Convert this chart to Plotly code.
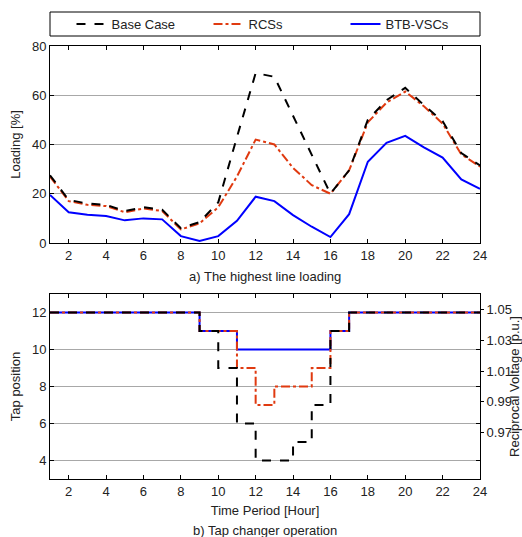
import plotly.graph_objects as go

hours = list(range(1, 25))

load_base = [27.5, 17.5, 16, 15.5, 13, 14.5, 13.5, 6, 8.5, 16.5, 43, 69, 67.5, 51.5, 35.5, 20,
             29.5, 50, 58, 63, 56, 49.5, 36.5, 31.5]
load_rcs = [27, 17, 15.5, 15, 12.5, 14, 13, 5.5, 8, 14.5, 27, 42, 40, 30.5, 23.5, 20,
            29.5, 49, 57, 61.5, 55.5, 48.5, 36, 31]
load_btb = [19.5, 12.5, 11.5, 11, 9.2, 10, 9.6, 2.8, 0.8, 2.8, 9, 18.8, 17, 11.3, 6.6, 2.4,
            11.7, 33, 40.7, 43.5, 38.8, 34.7, 25.8, 22]

tap_base = [12, 12, 12, 12, 12, 12, 12, 12, 11, 9, 6, 4, 4, 5, 7, 11, 12, 12, 12, 12, 12, 12, 12, 12]
tap_rcs = [12, 12, 12, 12, 12, 12, 12, 12, 11, 11, 9, 7, 8, 8, 9, 11, 12, 12, 12, 12, 12, 12, 12, 12]
tap_btb = [12, 12, 12, 12, 12, 12, 12, 12, 11, 11, 10, 10, 10, 10, 10, 11, 12, 12, 12, 12, 12, 12, 12, 12]

volt_ticks = [0.97, 0.99, 1.01, 1.03, 1.05]
volt_labels = ["0.97", "0.99", "1.01", "1.03", "1.05"]

names = ["Base Case", "RCSs", "BTB-VSCs"]
colors = {"Base Case": "#000000", "RCSs": "#e03a10", "BTB-VSCs": "#0000ff"}
dashes = {"Base Case": "dash", "RCSs": "dashdot", "BTB-VSCs": "solid"}
rank = {"Base Case": 1, "RCSs": 2, "BTB-VSCs": 3}

FONT = "Liberation Sans, Arial, sans-serif"
TXT = "#222"
fig = go.Figure()

loads = {"Base Case": load_base, "RCSs": load_rcs, "BTB-VSCs": load_btb}
taps = {"Base Case": tap_base, "RCSs": tap_rcs, "BTB-VSCs": tap_btb}

for n in ["BTB-VSCs", "RCSs", "Base Case"]:
    fig.add_trace(go.Scatter(x=hours, y=loads[n], mode="lines", name=n,
                             line=dict(color=colors[n], dash=dashes[n], width=2),
                             legendrank=rank[n], xaxis="x", yaxis="y"))
for n in ["BTB-VSCs", "RCSs", "Base Case"]:
    fig.add_trace(go.Scatter(x=hours, y=taps[n], mode="lines", name=n, showlegend=False,
                             line=dict(color=colors[n], dash=dashes[n], width=2, shape="hv"),
                             xaxis="x2", yaxis="y2"))
# invisible trace to carry the right-hand voltage axis
fig.add_trace(go.Scatter(x=[hours[0], hours[-1]], y=[volt_ticks[0], volt_ticks[-1]], mode="lines",
                         line=dict(width=0), showlegend=False, hoverinfo="skip",
                         xaxis="x2", yaxis="y3"))

axis_common = dict(showline=True, linecolor="black", linewidth=1, mirror="ticks",
                   ticks="inside", ticklen=4, tickcolor="black", automargin=False,
                   tickfont=dict(family=FONT, size=13, color=TXT), zeroline=False)

H = 537
MT, MB = 46, 58
PH = H - MT - MB


def py(px):
    return (H - MB - px) / PH


top_dom = [py(243), 1.0]
bot_dom = [0.0, py(294)]

fig.update_layout(
    width=522, height=537,
    margin=dict(l=50, r=42, t=MT, b=MB, autoexpand=False),
    paper_bgcolor="white", plot_bgcolor="white",
    font=dict(family=FONT, size=13, color=TXT),
    xaxis=dict(domain=[0, 1], anchor="y", range=[1, 24], tickvals=list(range(2, 25, 2)),
               showgrid=False, **axis_common),
    yaxis=dict(domain=top_dom, anchor="x", range=[0, 80], tickvals=[0, 20, 40, 60, 80],
               showgrid=True, gridcolor="#a8a8a8", gridwidth=1,
               title=dict(text="Loading [%]", font=dict(family=FONT, size=13, color=TXT), standoff=8),
               **axis_common),
    xaxis2=dict(domain=[0, 1], anchor="y2", range=[1, 24], tickvals=list(range(2, 25, 2)),
                showgrid=False,
                title=dict(text="Time Period [Hour]", font=dict(family=FONT, size=13, color=TXT), standoff=8),
                **axis_common),
    yaxis2=dict(domain=bot_dom, anchor="x2", range=[3, 13], tickvals=[4, 6, 8, 10, 12],
                showgrid=True, gridcolor="#a8a8a8", gridwidth=1,
                title=dict(text="Tap position", font=dict(family=FONT, size=13, color=TXT), standoff=8),
                **axis_common),
    yaxis3=dict(overlaying="y2", side="right", anchor="x2", range=[0.94, 1.06],
                tickvals=volt_ticks, ticktext=volt_labels, showgrid=False, showline=False,
                ticks="outside", ticklen=3, tickcolor="black", zeroline=False, automargin=False,
                tickfont=dict(family=FONT, size=13, color=TXT),
                title=dict(text="Reciprocal Voltage [p.u.]", font=dict(family=FONT, size=13, color=TXT), standoff=4)),
    legend=dict(orientation="h", x=0.05, xanchor="left", y=(H - 24) / H, yanchor="middle",
                yref="container", entrywidth=92, entrywidthmode="pixels",
                font=dict(family=FONT, size=13, color=TXT), bgcolor="rgba(0,0,0,0)",
                itemwidth=30),
    showlegend=True,
)

# legend box
fig.add_shape(type="rect", xref="paper", yref="paper", x0=0, x1=1,
              y0=py(36), y1=py(12),
              line=dict(color="black", width=1), fillcolor="rgba(0,0,0,0)")

fig.add_annotation(text="a) The highest line loading", xref="paper", yref="paper",
                   x=0.5, y=py(276), showarrow=False,
                   font=dict(family=FONT, size=13, color=TXT), yanchor="middle")
fig.add_annotation(text="b) Tap changer operation", xref="paper", yref="paper",
                   x=0.5, y=py(530), showarrow=False,
                   font=dict(family=FONT, size=13, color=TXT), yanchor="middle")

fig.write_html("out.html", config={"displayModeBar": False},
               post_script="document.body.style.margin='0';document.body.style.padding='0';")
